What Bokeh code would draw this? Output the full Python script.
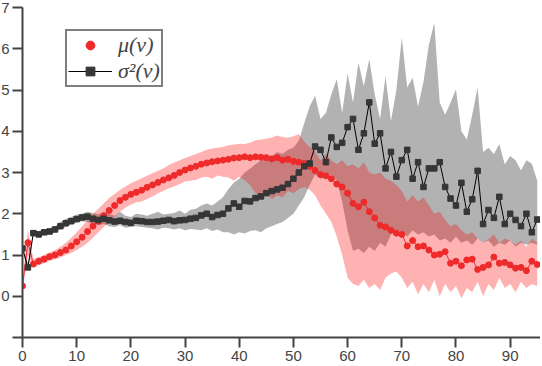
from bokeh.plotting import figure
from bokeh.models import ColumnDataSource, Range1d, Legend, LegendItem, FixedTicker
from bokeh.embed import file_html
from bokeh.resources import INLINE

v = list(range(96))

mu = [0.25, 1.3, 0.78, 0.85, 0.9, 0.96, 1.0, 1.06, 1.12, 1.22,
      1.32, 1.43, 1.57, 1.7, 1.82, 1.95, 2.08, 2.2, 2.32, 2.4,
      2.47, 2.52, 2.57, 2.64, 2.7, 2.76, 2.82, 2.87, 2.93, 3.0,
      3.06, 3.11, 3.15, 3.2, 3.23, 3.26, 3.28, 3.3, 3.32, 3.35,
      3.36, 3.38, 3.36, 3.38, 3.37, 3.36, 3.33, 3.36, 3.3, 3.32,
      3.27, 3.25, 3.22, 3.15, 3.05, 2.95, 2.92, 2.85, 2.72, 2.65,
      2.5, 2.25, 2.17, 2.28, 2.05, 1.9, 1.72, 1.68, 1.6, 1.53,
      1.5, 1.22, 1.35, 1.2, 1.22, 1.12, 1.0, 1.02, 1.08, 0.8,
      0.85, 0.74, 0.88, 0.9, 0.65, 0.7, 0.76, 0.95, 0.8, 0.82,
      0.76, 0.68, 0.7, 0.62, 0.85, 0.77]

mu_hi = [0.35, 1.6, 0.9, 0.95, 1.0, 1.06, 1.12, 1.2, 1.3, 1.42,
         1.55, 1.7, 1.85, 2.0, 2.12, 2.25, 2.38, 2.48, 2.58, 2.66,
         2.74, 2.8, 2.86, 2.92, 2.98, 3.04, 3.1, 3.18, 3.24, 3.3,
         3.35, 3.4, 3.45, 3.5, 3.55, 3.58, 3.6, 3.62, 3.66, 3.68,
         3.7, 3.69, 3.72, 3.78, 3.8, 3.82, 3.85, 3.9, 3.86, 3.84,
         3.88, 3.93, 3.75, 3.62, 3.5, 3.3, 3.45, 3.3, 3.2, 3.3,
         3.15, 3.2, 3.1, 3.25, 3.0, 2.95, 3.0, 2.85, 2.8, 2.7,
         2.55, 2.3, 2.45, 2.3, 2.4, 2.2, 2.0, 2.05, 1.85, 1.7,
         1.75, 1.6, 1.5, 1.55, 1.4, 1.3, 1.38, 1.5, 1.3, 1.4,
         1.35, 1.25, 1.35, 1.2, 1.4, 1.3]

mu_lo = [0.15, 1.0, 0.7, 0.75, 0.8, 0.86, 0.9, 0.94, 1.0, 1.05,
         1.12, 1.2, 1.3, 1.42, 1.55, 1.68, 1.8, 1.93, 2.05, 2.15,
         2.22, 2.28, 2.3, 2.36, 2.42, 2.5, 2.56, 2.62, 2.66, 2.72,
         2.78, 2.8, 2.82, 2.88, 2.9, 2.85, 2.93, 2.9, 2.88, 2.8,
         2.9, 2.82, 2.7, 2.5, 2.42, 2.5, 2.35, 2.45, 2.4, 2.55,
         2.5, 2.6, 2.65, 2.58, 2.45, 2.2, 2.0, 1.8, 1.45, 1.0,
         0.45, 0.3, 0.25, 0.4, 0.2, 0.3, 0.15, 0.45, 0.55, 0.6,
         0.45, 0.2, 0.35, 0.05, 0.3, 0.1, 0.4, 0.0, 0.3, 0.1,
         0.25, -0.05, 0.2, 0.1, 0.35, 0.0, 0.3, 0.15, 0.45, 0.2,
         0.3, 0.1, 0.35, 0.2, 0.3, 0.25]

s2 = [1.16, 0.7, 1.53, 1.5, 1.55, 1.57, 1.62, 1.7, 1.77, 1.82,
      1.87, 1.91, 1.93, 1.88, 1.85, 1.88, 1.84, 1.81, 1.83, 1.8,
      1.78, 1.83, 1.82, 1.8, 1.8, 1.81, 1.83, 1.85, 1.82, 1.84,
      1.85, 1.88, 1.9, 1.96, 2.0, 1.92, 1.97, 2.0, 2.13, 2.25,
      2.17, 2.31, 2.3, 2.38, 2.42, 2.5, 2.55, 2.59, 2.63, 2.72,
      2.85, 3.0, 3.15, 3.22, 3.63, 3.55, 3.25, 3.85, 3.62, 3.72,
      4.1, 4.3, 3.55, 3.95, 4.7, 3.7, 3.95, 3.1, 3.5, 2.9,
      3.3, 3.55, 2.85, 3.25, 2.65, 3.1, 3.1, 3.25, 2.65, 2.37,
      2.2, 2.75, 2.05, 2.35, 3.04, 1.75, 2.09, 1.9, 2.41, 1.75,
      2.0, 1.85, 1.7, 2.0, 1.55, 1.86]

s2_hi = [1.25, 0.8, 1.6, 1.58, 1.62, 1.65, 1.7, 1.8, 1.88, 1.92,
         1.98, 2.0, 2.05, 2.02, 1.98, 2.05, 2.0, 1.95, 2.05, 1.95,
         1.92, 2.0, 1.98, 1.95, 2.0, 2.05, 1.98, 2.0, 2.02, 2.08,
         2.0, 2.1, 2.12, 2.2, 2.25, 2.2, 2.3, 2.4, 2.6, 2.75,
         2.85, 3.0, 3.1, 3.2, 3.3, 3.35, 3.4, 3.5, 3.45, 3.55,
         3.6, 3.77, 4.2, 4.6, 4.86, 4.3, 4.45, 4.9, 5.26, 4.45,
         5.4, 4.7, 5.66, 5.1, 5.75, 4.9, 4.3, 5.34, 4.25, 5.0,
         6.27, 5.06, 5.3, 4.6, 5.2, 6.1, 6.63, 4.7, 4.4, 4.7,
         5.02, 4.0, 3.8, 4.4, 5.06, 3.5, 3.6, 3.45, 3.69, 3.2,
         3.4, 3.3, 3.05, 3.3, 3.21, 2.8]

s2_lo = [1.1, 0.6, 1.47, 1.45, 1.5, 1.52, 1.55, 1.62, 1.68, 1.74,
         1.78, 1.82, 1.8, 1.75, 1.72, 1.75, 1.7, 1.68, 1.72, 1.66,
         1.68, 1.7, 1.68, 1.66, 1.65, 1.62, 1.66, 1.65, 1.62, 1.65,
         1.6, 1.63, 1.62, 1.6, 1.65, 1.58, 1.62, 1.55, 1.55, 1.5,
         1.55, 1.52, 1.58, 1.6, 1.55, 1.65, 1.7, 1.75, 1.8, 1.9,
         2.0, 2.2, 2.4, 2.7, 2.95, 2.85, 2.9, 2.95, 2.8, 2.3,
         1.6, 1.1, 1.15, 1.05, 1.2, 1.1, 1.3, 1.2, 1.5, 1.6,
         1.55, 1.45, 1.6, 1.5, 1.55, 1.45, 1.5, 1.35, 1.4, 1.3,
         1.45, 1.3, 1.35, 1.25, 1.4, 1.3, 1.35, 1.2, 1.3, 1.25,
         1.35, 1.2, 1.3, 1.25, 1.3, 1.25]

x_ticks = [0, 10, 20, 30, 40, 50, 60, 70, 80, 90]
y_ticks = [-1, 0, 1, 2, 3, 4, 5, 6, 7]
y_tick_labels = {-1: "", 0: "0", 1: "1", 2: "2", 3: "3", 4: "4", 5: "5", 6: "6", 7: "7"}

src = ColumnDataSource(dict(v=v, mu=mu, mu_lo=mu_lo, mu_hi=mu_hi,
                            s2=s2, s2_lo=s2_lo, s2_hi=s2_hi))

p = figure(width=544, height=371, output_backend="svg", toolbar_location=None,
           x_range=Range1d(0, 95.6), y_range=Range1d(-1, 7),
           min_border_left=26, min_border_right=0, min_border_top=11,
           min_border_bottom=30)
p.margin = (-4, 0, 0, -4)
p.outline_line_color = None
p.grid.visible = False
p.background_fill_color = "white"

p.varea(x="v", y1="s2_lo", y2="s2_hi", source=src, fill_color="black", fill_alpha=0.3)
p.varea(x="v", y1="mu_lo", y2="mu_hi", source=src, fill_color="red", fill_alpha=0.3)

RED = "#ee2a2a"
DARK = "#363636"
rl = p.line("v", "mu", source=src, line_color=RED, line_width=1)
rs = p.scatter("v", "mu", source=src, marker="circle", size=6,
               fill_color=RED, line_color=RED)
bl = p.line("v", "s2", source=src, line_color="black", line_width=1)
bs = p.scatter("v", "s2", source=src, marker="square", size=5.5,
               fill_color=DARK, line_color=DARK)

AX = "#444444"
for ax in (p.xaxis[0], p.yaxis[0]):
    ax.axis_line_color = AX
    ax.axis_line_width = 2
    ax.major_tick_line_color = AX
    ax.major_tick_line_width = 2
    ax.major_tick_in = 0
    ax.minor_tick_line_color = None
    ax.major_label_text_font = "Liberation Sans"
    ax.major_label_text_font_size = "15px"
    ax.major_label_text_color = AX
p.xaxis[0].ticker = FixedTicker(ticks=x_ticks)
p.xaxis[0].major_tick_out = 10
p.xaxis[0].major_label_standoff = 3
p.yaxis[0].ticker = FixedTicker(ticks=y_ticks)
p.yaxis[0].major_label_overrides = y_tick_labels
p.yaxis[0].major_tick_out = 10
p.yaxis[0].major_label_standoff = 3

legend = Legend(items=[LegendItem(label="μ(v)", renderers=[rs]),
                       LegendItem(label="σ²(v)", renderers=[bl, bs])],
                location=(43, 250),
                border_line_color="black", border_line_width=2,
                background_fill_color="white", background_fill_alpha=1,
                label_text_font="Liberation Serif", label_text_font_style="italic",
                label_text_font_size="22px",
                glyph_width=44, glyph_height=22, label_height=22,
                padding=1, spacing=-1, margin=0, label_standoff=6)
p.add_layout(legend)

open("out.html", "w").write(file_html(p, INLINE))
